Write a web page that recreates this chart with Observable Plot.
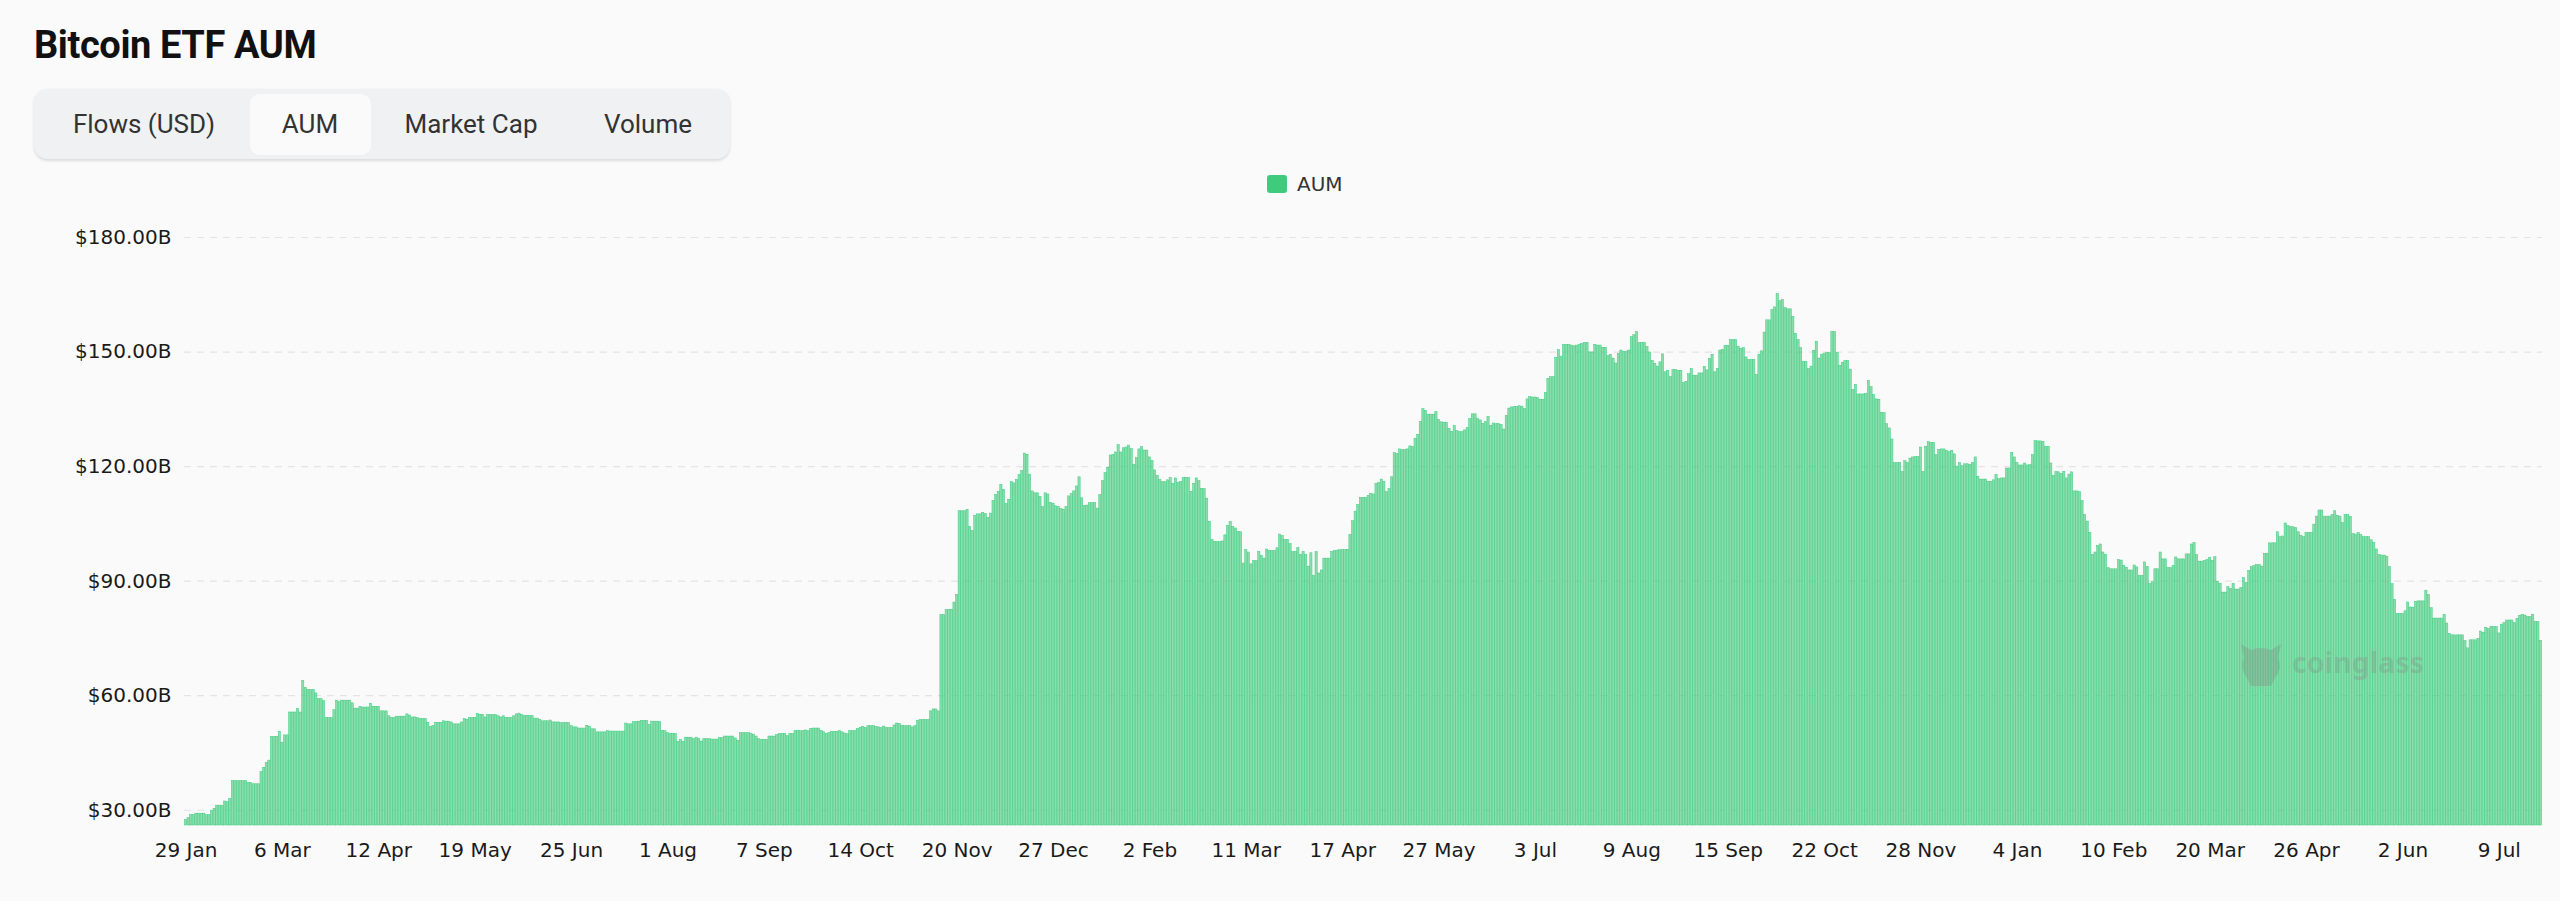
<!DOCTYPE html>
<html>
<head>
<meta charset="utf-8">
<script src="https://cdn.jsdelivr.net/npm/d3@7"></script>
<script src="https://cdn.jsdelivr.net/npm/@observablehq/plot@0.6"></script>
<style>
  html, body { margin: 0; padding: 0; }
  body { width: 2560px; height: 901px; background: #fafafa; position: relative; overflow: hidden; }
  .abs { position: absolute; white-space: nowrap; }
  #title { left: 34px; top: 26px; font: 700 38px/38px Roboto, sans-serif; color: #111; letter-spacing: -0.4px; }
  #tabs { left: 34px; top: 89px; width: 696px; height: 70px; border-radius: 14px; background: #f0f1f3; box-shadow: 0 1.5px 3px rgba(0,0,0,0.12); }
  #active { left: 250px; top: 94px; width: 121px; height: 61px; border-radius: 10px; background: #fafafa; }
  .tab { top: 111px; width: 220px; text-align: center; font: 400 26px/26px Roboto, sans-serif; color: #333; }
  #legsq { left: 1267px; top: 175px; width: 20px; height: 18px; border-radius: 3px; background: #3ecb7c; }
  #legtx { left: 1297px; top: 174px; font: 400 20px/20px "DejaVu Sans", sans-serif; color: #333; }
  #chart { left: 0; top: 200px; }
  #wm { left: 2292px; top: 648px; font: 700 28px/28px "Noto Sans", sans-serif; color: rgba(130,130,130,0.3); letter-spacing: 0.3px; }
  #wmlogo { left: 2237px; top: 638px; }
</style>
</head>
<body>
<div id="title" class="abs">Bitcoin ETF AUM</div>
<div id="tabs" class="abs"></div>
<div id="active" class="abs"></div>
<div class="abs tab" style="left:34px">Flows (USD)</div>
<div class="abs tab" style="left:200px">AUM</div>
<div class="abs tab" style="left:361px">Market Cap</div>
<div class="abs tab" style="left:538px">Volume</div>
<div id="legsq" class="abs"></div>
<div id="legtx" class="abs">AUM</div>
<div id="chart" class="abs"></div>
<svg id="wmlogo" class="abs" width="48" height="50" viewBox="0 0 48 50">
  <path d="M4 6 L14 12 Q24 8 34 12 L44 6 L41 20 Q46 30 38 40 L34 48 L14 48 L10 40 Q2 30 7 20 Z" fill="rgba(130,130,130,0.3)"/>
</svg>
<div id="wm" class="abs">coinglass</div>
<script>
// Tick labels along the x axis (one every 37 daily categories)
const tickLabels = ["29 Jan","6 Mar","12 Apr","19 May","25 Jun","1 Aug","7 Sep","14 Oct","20 Nov","27 Dec","2 Feb","11 Mar","17 Apr","27 May","3 Jul","9 Aug","15 Sep","22 Oct","28 Nov","4 Jan","10 Feb","20 Mar","26 Apr","2 Jun","9 Jul"];
const tickStep = 37;
// Y axis ticks in billions USD
const yTicks = [30, 60, 90, 120, 150, 180];
const yMin = 26;
const yMax = 180;
// Daily AUM, billions USD
const aum = [
27.4,27.9,28.7,28.7,29.1,29.1,29.1,29.1,28.7,28.7,
29.8,30.4,31.2,31.2,31.2,32.3,32.1,32.9,37.7,37.6,
37.6,37.6,37.6,37.6,37.1,37.1,36.8,36.8,36.8,40.0,
41.1,42.4,43.0,49.2,49.2,49.2,50.5,47.7,49.6,49.6,
55.6,55.6,55.6,56.5,55.6,63.8,62.0,61.5,61.5,61.5,
60.6,59.1,59.1,58.6,54.1,54.1,54.1,56.2,58.7,58.3,
58.7,58.7,58.7,58.7,58.0,56.6,56.6,57.1,56.9,56.9,
56.9,57.9,57.1,57.1,57.1,55.9,55.9,55.9,54.6,54.2,
54.1,54.5,54.5,54.5,54.5,55.1,54.8,54.3,54.3,54.1,
53.9,53.9,53.9,52.9,51.8,52.1,52.9,52.9,52.9,53.3,
53.2,53.2,53.0,52.5,52.5,52.5,53.0,53.9,53.7,54.2,
54.2,54.2,55.2,55.0,55.0,54.3,54.9,54.9,54.9,54.9,
54.6,54.3,54.6,54.2,54.2,54.2,54.6,55.1,55.3,55.0,
54.7,54.7,54.7,54.7,54.0,54.0,53.7,53.3,53.3,53.3,
53.5,53.0,53.0,53.0,52.8,52.8,52.8,52.8,52.0,51.7,
51.7,51.4,51.4,51.4,52.1,51.9,51.2,51.2,50.4,50.4,
50.4,50.4,50.7,50.6,50.6,50.6,50.6,50.6,50.6,52.7,
52.5,52.5,53.1,53.1,53.2,53.4,53.4,53.4,52.4,53.2,
53.2,53.2,53.1,50.8,50.7,50.2,50.0,50.0,50.0,47.9,
48.4,47.9,49.0,49.0,49.0,48.6,49.0,48.6,48.0,48.6,
48.6,48.6,48.5,48.5,48.5,48.9,48.9,49.3,49.3,49.3,
49.3,48.8,48.2,50.2,50.2,50.2,50.2,50.0,49.8,49.3,
48.6,48.4,48.4,48.4,49.3,49.3,49.3,49.7,50.0,50.0,
50.0,49.4,50.0,50.0,50.7,50.7,50.7,50.7,50.9,50.7,
51.3,51.4,51.4,51.4,50.8,50.4,50.0,50.2,50.5,50.5,
50.5,50.7,50.4,50.1,49.9,50.7,50.7,50.7,51.3,51.6,
51.8,51.5,52.0,52.0,52.0,51.8,51.7,51.5,51.9,51.5,
51.5,51.5,52.2,52.7,52.6,52.1,52.0,52.0,52.0,51.7,
52.0,53.4,53.6,53.6,53.6,53.6,55.9,56.4,56.4,55.9,
81.1,81.1,82.4,82.4,82.5,84.4,86.4,108.3,108.3,108.3,
108.7,104.2,103.1,107.0,107.5,107.5,107.9,107.6,106.6,107.7,
111.0,112.6,113.4,115.2,113.9,110.2,111.3,115.9,115.6,116.5,
117.8,118.8,123.4,123.1,117.9,113.5,113.0,113.0,112.1,109.4,
113.0,112.7,110.5,110.3,109.6,109.4,108.9,108.7,109.4,112.2,
112.8,113.5,114.8,117.2,111.7,109.7,109.8,110.4,110.4,110.4,
109.0,112.5,116.2,118.3,119.7,122.9,123.1,123.7,125.6,123.7,
124.8,125.0,125.5,124.6,120.5,122.2,124.5,125.1,124.2,124.2,
122.4,121.5,119.0,117.6,116.5,115.9,115.9,116.4,117.0,115.5,
116.9,115.8,115.9,117.0,117.0,117.0,113.4,115.4,116.9,116.2,
114.2,114.1,111.6,105.5,100.8,100.3,100.2,100.2,100.4,102.0,
104.5,105.5,104.2,103.8,102.9,102.8,94.6,98.1,97.5,94.4,
95.3,95.3,97.6,96.6,95.9,98.3,97.9,97.9,97.9,98.6,
102.2,101.8,100.8,100.8,99.7,97.6,97.6,98.7,96.9,97.6,
96.9,93.8,97.3,91.4,97.6,92.0,92.8,95.9,95.9,95.9,
97.6,97.9,98.0,98.1,98.1,98.1,98.2,102.1,105.7,108.2,
109.9,111.8,111.8,111.8,112.3,112.9,112.7,115.5,115.7,116.6,
116.0,113.3,114.1,117.2,123.5,123.3,124.5,124.3,124.3,124.5,
125.3,125.1,127.3,128.3,131.7,135.1,134.6,133.6,133.6,133.6,
134.3,132.2,131.6,131.5,131.5,129.9,129.1,130.6,129.3,129.0,
129.0,129.5,130.1,132.4,133.7,133.7,132.4,132.1,131.2,131.7,
133.0,130.7,131.3,131.1,131.1,130.9,129.7,133.3,135.2,135.5,
135.6,135.6,135.8,135.7,135.1,137.6,138.2,138.1,138.1,137.9,
137.5,137.5,139.3,143.0,143.4,143.4,148.4,150.5,148.8,151.9,
151.9,151.9,151.7,151.5,151.7,151.9,152.1,152.4,152.4,149.9,
149.9,151.9,151.7,151.7,151.1,151.1,149.0,149.3,148.3,147.0,
149.5,150.4,150.1,150.1,150.4,153.9,154.4,155.2,152.4,152.4,
152.4,151.3,149.9,147.7,146.9,146.2,147.3,149.4,144.7,145.1,
143.4,145.3,145.3,145.1,145.1,141.9,142.2,144.2,145.6,143.8,
143.8,144.4,144.4,146.1,145.2,148.2,149.3,144.7,145.6,150.4,
150.6,151.6,151.6,153.1,153.1,153.1,151.4,150.8,151.0,148.6,
147.9,147.9,147.9,144.0,149.3,150.2,155.1,158.3,158.3,161.0,
161.7,165.2,163.3,163.6,161.5,161.2,161.2,159.2,154.8,153.1,
151.0,147.4,147.4,145.6,146.2,150.3,152.7,148.3,149.3,149.5,
149.7,149.7,155.3,155.2,149.7,146.4,147.2,147.6,147.7,145.4,
140.0,141.4,138.9,138.9,138.9,139.0,142.5,140.8,138.7,137.6,
137.5,134.1,134.0,131.1,130.0,127.1,120.9,120.9,120.9,118.6,
121.4,120.9,122.1,122.4,122.5,122.5,125.0,118.6,125.2,126.4,
126.2,126.2,123.0,124.3,124.5,124.5,124.1,123.8,124.1,123.2,
120.0,120.9,120.1,120.6,120.6,120.5,121.0,122.4,117.3,116.6,
116.6,116.6,116.0,116.0,116.4,117.8,116.7,116.9,116.9,119.5,
119.5,123.6,122.4,121.0,120.3,120.3,120.8,120.3,120.4,123.0,
126.7,126.6,126.6,126.5,125.2,125.2,120.8,117.6,118.6,118.5,
118.1,118.6,116.9,117.9,118.5,113.5,113.5,113.3,111.0,107.4,
105.6,102.6,96.9,97.5,99.2,99.6,97.5,96.9,93.4,93.1,
93.1,93.1,95.5,95.4,94.0,93.5,92.8,92.8,94.1,93.6,
91.4,91.4,94.9,93.7,89.2,89.7,93.1,93.1,97.5,95.7,
95.7,93.4,93.4,94.0,96.2,95.7,95.7,95.7,97.0,97.0,
99.6,100.0,96.8,95.1,95.1,95.3,95.5,96.0,95.3,96.3,
89.8,89.3,87.0,87.0,88.4,88.0,89.3,87.8,87.8,88.2,
90.8,89.5,92.7,93.7,93.9,94.2,94.2,93.8,97.1,97.2,
99.9,99.9,99.9,102.8,101.5,101.7,105.1,104.4,104.2,104.1,
103.9,102.8,101.9,101.5,102.6,102.6,102.6,104.8,106.9,108.5,
108.5,106.9,106.9,106.9,107.3,108.3,107.1,106.9,105.2,107.3,
107.3,106.8,102.3,102.2,102.6,102.1,101.5,101.5,101.5,100.7,
100.0,98.3,96.9,96.7,96.7,96.4,93.7,89.2,85.1,81.4,
81.4,81.4,82.1,84.4,83.1,83.0,84.6,84.7,84.7,84.7,
87.5,86.4,82.9,80.2,80.2,80.2,80.2,81.2,78.9,76.2,
75.8,75.8,75.8,75.8,75.8,74.3,72.4,74.5,74.5,74.5,
74.9,76.8,76.5,77.8,77.5,78.0,78.0,78.0,76.3,78.6,
79.0,79.7,79.7,79.7,79.0,80.1,80.9,81.2,81.0,80.6,
80.6,81.2,79.3,79.3,74.4
];

const tickIdx = tickLabels.map((_, k) => k * tickStep);
const labelAt = new Map(tickIdx.map((t, k) => [t, tickLabels[k]]));

const chart = Plot.plot({
  width: 2560,
  height: 690,
  marginTop: 37,
  marginBottom: 65,
  marginLeft: 184,
  marginRight: 18,
  style: { background: "transparent", fontFamily: "'DejaVu Sans', sans-serif", fontSize: "20px", color: "#1a1a1a", overflow: "visible" },
  x: { type: "band", domain: d3.range(aum.length), padding: 0.15, axis: null },
  y: { domain: [yMin, yMax], axis: null },
  marks: [
    Plot.ruleY(yTicks, { stroke: "#e4e4e4", strokeDasharray: "7,6", strokeWidth: 1.2 }),
    Plot.barY(aum, { x: (d, i) => i, y1: yMin, y2: d => d, fill: "#3ecb7c", fillOpacity: 0.6, stroke: "#3ecb7c", strokeWidth: 0.5, strokeOpacity: 1 }),
    Plot.axisY(yTicks, { tickSize: 0, tickPadding: 13, tickFormat: d => `$${d.toFixed(2)}B` }),
    Plot.axisX(tickIdx, { tickSize: 0, tickPadding: 17, tickFormat: d => labelAt.get(d) })
  ]
});
document.getElementById("chart").appendChild(chart);
</script>
</body>
</html>
